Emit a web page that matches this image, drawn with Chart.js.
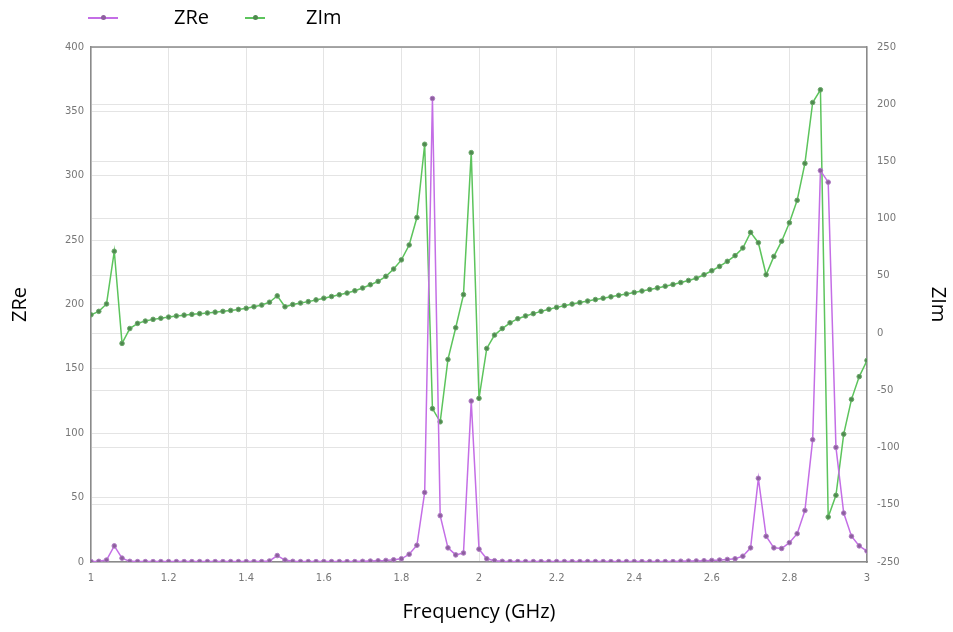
<!DOCTYPE html>
<html>
<head>
<meta charset="utf-8">
<title>ZRe / ZIm vs Frequency</title>
<script src="https://cdn.jsdelivr.net/npm/chart.js@4.4.1/dist/chart.umd.min.js"></script>
<style>
  html, body { margin: 0; padding: 0; background: #fff; }
  #wrap { position: relative; width: 953px; height: 632px; }
  #chart { position: absolute; left: 0; top: 0; }
  .key-line { position: absolute; height: 2px; top: 17px; }
  .key-dot { position: absolute; width: 5px; height: 5px; border-radius: 50%; top: 15px; }
  .key-text { position: absolute; top: 3px; font-family: "Open Sans", sans-serif; font-size: 20px; color: #000; }
</style>
</head>
<body>
<div id="wrap">
  <canvas id="chart" width="953" height="632"></canvas>
  <div class="key-line" style="left:88px;width:30px;background:#c46ee6"></div>
  <div class="key-dot" style="left:101px;background:#8d5f9e"></div>
  <div class="key-text" style="left:174px">ZRe</div>
  <div class="key-line" style="left:245px;width:20px;background:#5cc45c"></div>
  <div class="key-dot" style="left:253px;background:#4f8a4f"></div>
  <div class="key-text" style="left:306px">ZIm</div>
</div>
<script>
    // frequency points (GHz)
    const freqs = [
        1.00, 1.02, 1.04, 1.06, 1.08, 1.10, 1.12, 1.14, 1.16, 1.18,
        1.20, 1.22, 1.24, 1.26, 1.28, 1.30, 1.32, 1.34, 1.36, 1.38,
        1.40, 1.42, 1.44, 1.46, 1.48, 1.50, 1.52, 1.54, 1.56, 1.58,
        1.60, 1.62, 1.64, 1.66, 1.68, 1.70, 1.72, 1.74, 1.76, 1.78,
        1.80, 1.82, 1.84, 1.86, 1.88, 1.90, 1.92, 1.94, 1.96, 1.98,
        2.00, 2.02, 2.04, 2.06, 2.08, 2.10, 2.12, 2.14, 2.16, 2.18,
        2.20, 2.22, 2.24, 2.26, 2.28, 2.30, 2.32, 2.34, 2.36, 2.38,
        2.40, 2.42, 2.44, 2.46, 2.48, 2.50, 2.52, 2.54, 2.56, 2.58,
        2.60, 2.62, 2.64, 2.66, 2.68, 2.70, 2.72, 2.74, 2.76, 2.78,
        2.80, 2.82, 2.84, 2.86, 2.88, 2.90, 2.92, 2.94, 2.96, 2.98,
        3.00
    ];

    // real part (left axis)
    const zRe = [
        0.3, 0.5, 1.5, 12.5, 3, 0.5, 0.3, 0.3, 0.3, 0.3,
        0.3, 0.3, 0.3, 0.3, 0.3, 0.3, 0.3, 0.3, 0.3, 0.3,
        0.3, 0.3, 0.3, 0.8, 5, 1.5, 0.5, 0.3, 0.3, 0.3,
        0.3, 0.3, 0.3, 0.3, 0.3, 0.5, 0.7, 0.9, 1.2, 1.7,
        2.5, 6, 13, 54, 360, 36, 11, 5.5, 7, 125,
        10, 2.5, 1, 0.5, 0.3, 0.3, 0.3, 0.3, 0.3, 0.3,
        0.3, 0.3, 0.3, 0.3, 0.3, 0.3, 0.3, 0.3, 0.3, 0.3,
        0.3, 0.3, 0.3, 0.3, 0.3, 0.3, 0.6, 0.7, 0.8, 1,
        1.2, 1.5, 2, 2.5, 4.5, 11, 65, 20, 11, 10.5,
        15, 22, 40, 95, 304, 295, 89, 38, 20, 12.5,
        8.5
    ];

    // imaginary part (right axis)
    const zIm = [
        16, 19, 25.5, 71.5, -9, 4, 8.5, 10.5, 12, 13,
        14, 15, 15.7, 16.4, 17, 17.6, 18.3, 19, 19.8, 20.7,
        21.7, 23, 24.5, 27, 32.5, 23, 25, 26.3, 27.5, 29,
        30.5, 32, 33.5, 35, 37, 39.4, 42.3, 45.2, 49.6, 56,
        64, 77, 101, 165, -66, -77.5, -23, 4.7, 33.6, 157.7,
        -57, -13.4, -1.7, 4, 9, 12.6, 15, 17, 19, 20.8,
        22.5, 24, 25.4, 26.7, 28, 29.3, 30.5, 31.7, 33, 34.2,
        35.5, 36.8, 38.1, 39.5, 41, 42.5, 44.2, 46, 48, 51,
        54.5, 58.3, 62.7, 67.7, 74.4, 88, 79, 51, 67, 80.3,
        96.4, 116, 148.3, 201.5, 212.6, -160.7, -141.7, -88.3, -57.9, -38,
        -23.9
    ];

    const toPoints = (ys) => freqs.map((f, i) => ({ x: f, y: ys[i] }));

    const tickFont = { family: "DejaVu Sans", size: 10 };
    const titleFont = { family: "Open Sans", size: 20 };
    const gridColor = "#e4e4e4";
    const axisColor = "#8a8a8a";

    // box line along the top of the plot area
    const framePlugin = {
        id: "frame",
        beforeDatasetsDraw(chart) {
            const { ctx, chartArea: a } = chart;
            ctx.save();
            ctx.strokeStyle = axisColor;
            ctx.lineWidth = 1.5;
            ctx.beginPath();
            ctx.moveTo(a.left, a.top);
            ctx.lineTo(a.right, a.top);
            ctx.stroke();
            ctx.restore();
        }
    };

    new Chart(document.getElementById("chart").getContext("2d"), {
        type: "line",
        data: {
            datasets: [{
                label: "ZRe",
                data: toPoints(zRe),
                yAxisID: "yRe",
                borderColor: "#c46ee6",
                backgroundColor: "#8d5f9e",
                pointBackgroundColor: "#8d5f9e",
                pointBorderColor: "#b07cc4",
                borderWidth: 1.5,
                pointRadius: 2.3,
                pointBorderWidth: 1,
                tension: 0
            }, {
                label: "ZIm",
                data: toPoints(zIm),
                yAxisID: "yIm",
                borderColor: "#5cc45c",
                backgroundColor: "#4f8a4f",
                pointBackgroundColor: "#4f8a4f",
                pointBorderColor: "#6aa86a",
                borderWidth: 1.5,
                pointRadius: 2.3,
                pointBorderWidth: 1,
                tension: 0
            }]
        },
        options: {
            responsive: false,
            animation: false,
            layout: { padding: { top: 47, left: 0, right: 0, bottom: 0 } },
            plugins: {
                legend: { display: false },
                tooltip: { enabled: false }
            },
            scales: {
                x: {
                    type: "linear",
                    min: 1,
                    max: 3,
                    afterFit: (s) => { s.height = 70; },
                    ticks: {
                        stepSize: 0.2,
                        color: "#777",
                        font: tickFont,
                        padding: 10,
                        maxRotation: 0,
                        callback: (v) => +v.toFixed(1)
                    },
                    grid: { color: gridColor, drawTicks: false },
                    border: { color: axisColor, width: 1.5 },
                    title: {
                        display: true,
                        text: "Frequency (GHz)",
                        color: "#000",
                        font: titleFont,
                        padding: { top: 0, bottom: 8 }
                    }
                },
                yRe: {
                    position: "left",
                    min: 0,
                    max: 400,
                    afterFit: (s) => { s.width = 91; },
                    ticks: { stepSize: 50, color: "#777", font: tickFont, padding: 7 },
                    grid: { color: gridColor, drawTicks: false },
                    border: { color: axisColor, width: 1.5 },
                    title: {
                        display: true,
                        text: "ZRe",
                        color: "#000",
                        font: titleFont,
                        padding: { top: 8, bottom: 0 }
                    }
                },
                yIm: {
                    position: "right",
                    min: -200,
                    max: 250,
                    afterFit: (s) => { s.width = 86; },
                    ticks: {
                        stepSize: 50,
                        color: "#777",
                        font: tickFont,
                        padding: 10,
                        // the reference prints its bottom tick as -250
                        callback: (v) => (v === -200 ? "-250" : v)
                    },
                    grid: { color: gridColor, drawTicks: false },
                    border: { color: axisColor, width: 1.5 },
                    title: {
                        display: true,
                        text: "ZIm",
                        color: "#000",
                        font: titleFont,
                        padding: { top: 3, bottom: 0 }
                    }
                }
            }
        },
        plugins: [framePlugin]
    });
</script>
</body>
</html>
